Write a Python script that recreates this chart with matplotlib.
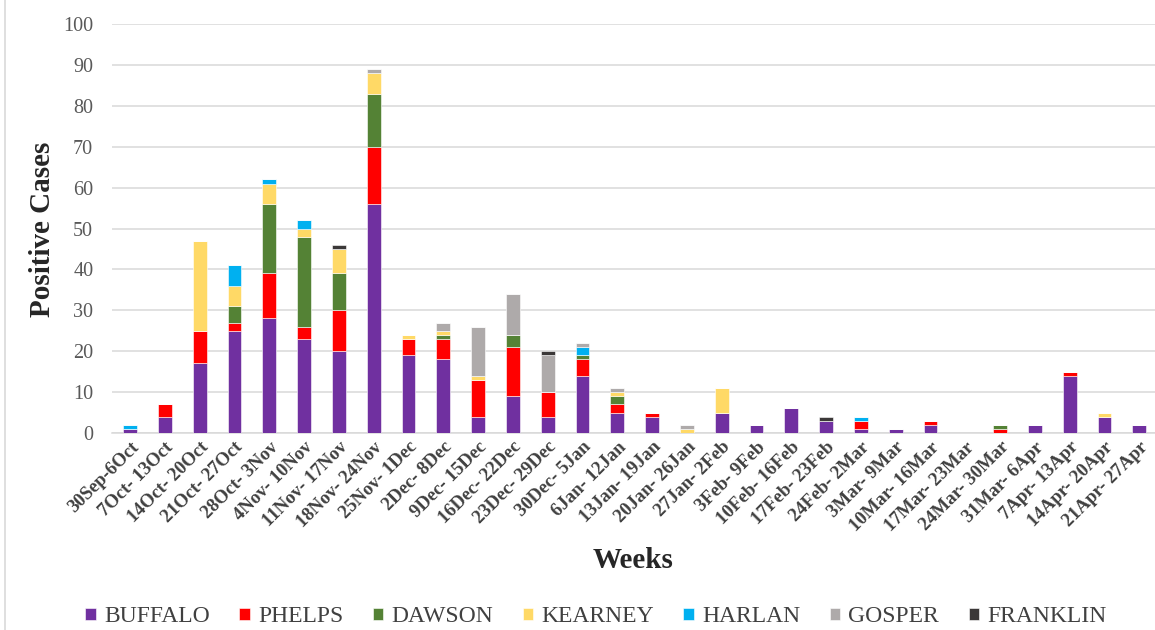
import matplotlib
matplotlib.use('Agg')
import matplotlib.pyplot as plt
from matplotlib.lines import Line2D
import numpy as np

plt.rcParams['font.family'] = ['Liberation Serif', 'DejaVu Serif']

# weekly positive cases by county
weeks = ['30Sep-6Oct', '7Oct- 13Oct', '14Oct- 20Oct', '21Oct- 27Oct', '28Oct- 3Nov',
         '4Nov- 10Nov', '11Nov- 17Nov', '18Nov- 24Nov', '25Nov- 1Dec', '2Dec- 8Dec',
         '9Dec- 15Dec', '16Dec- 22Dec', '23Dec- 29Dec', '30Dec- 5Jan', '6Jan- 12Jan',
         '13Jan- 19Jan', '20Jan- 26Jan', '27Jan- 2Feb', '3Feb- 9Feb', '10Feb- 16Feb',
         '17Feb- 23Feb', '24Feb- 2Mar', '3Mar- 9Mar', '10Mar- 16Mar', '17Mar- 23Mar',
         '24Mar- 30Mar', '31Mar- 6Apr', '7Apr- 13Apr', '14Apr- 20Apr', '21Apr- 27Apr']

buffalo = [1, 4, 17, 25, 28, 23, 20, 56, 19, 18, 4, 9, 4, 14, 5,
           4, 0, 5, 2, 6, 3, 1, 1, 2, 0, 0, 2, 14, 4, 2]
phelps = [0, 3, 8, 2, 11, 3, 10, 14, 4, 5, 9, 12, 6, 4, 2,
          1, 0, 0, 0, 0, 0, 2, 0, 1, 0, 1, 0, 1, 0, 0]
dawson = [0, 0, 0, 4, 17, 22, 9, 13, 0, 1, 0, 3, 0, 1, 2,
          0, 0, 0, 0, 0, 0, 0, 0, 0, 0, 1, 0, 0, 0, 0]
kearney = [0, 0, 22, 5, 5, 2, 6, 5, 1, 1, 1, 0, 0, 0, 1,
           0, 1, 6, 0, 0, 0, 0, 0, 0, 0, 0, 0, 0, 1, 0]
harlan = [1, 0, 0, 5, 1, 2, 0, 0, 0, 0, 0, 0, 0, 2, 0,
          0, 0, 0, 0, 0, 0, 1, 0, 0, 0, 0, 0, 0, 0, 0]
gosper = [0, 0, 0, 0, 0, 0, 0, 1, 0, 2, 12, 10, 9, 1, 1,
          0, 1, 0, 0, 0, 0, 0, 0, 0, 0, 0, 0, 0, 0, 0]
franklin = [0, 0, 0, 0, 0, 0, 1, 0, 0, 0, 0, 0, 1, 0, 0,
            0, 0, 0, 0, 0, 1, 0, 0, 0, 0, 0, 0, 0, 0, 0]

counties = ['BUFFALO', 'PHELPS', 'DAWSON', 'KEARNEY', 'HARLAN', 'GOSPER', 'FRANKLIN']
series = [buffalo, phelps, dawson, kearney, harlan, gosper, franklin]
colors = ['#7030A0', '#FF0000', '#548235', '#FFD966', '#00B0F0', '#AEAAAA', '#3B3838']

fig = plt.figure(figsize=(11.55, 6.3), dpi=100)
ax = fig.add_axes([112 / 1155, 1 - 433 / 630, 1043 / 1155, 409 / 630])

x = np.arange(len(weeks))
bottom = np.zeros(len(weeks))
for name, vals, col in zip(counties, series, colors):
    vals = np.array(vals, dtype=float)
    ax.bar(x, vals, width=0.4, bottom=bottom, color=col, label=name,
           edgecolor='white', linewidth=0.4, zorder=3)
    bottom += vals

ax.set_xlim(-0.52, 29.45)
ax.set_ylim(0, 100)
ax.set_yticks(np.arange(0, 101, 10))
ax.yaxis.grid(True, color='#D9D9D9', linewidth=1.1, zorder=0)
ax.set_axisbelow(True)
for s in ['top', 'right', 'left']:
    ax.spines[s].set_visible(False)
ax.spines['bottom'].set_color('#D9D9D9')
ax.spines['bottom'].set_linewidth(1.1)
ax.tick_params(axis='both', length=0)
ax.tick_params(axis='y', labelsize=14.5, labelcolor='#595959', pad=13.5)

ax.set_xticks(x)
ax.set_xticklabels(weeks, rotation=45, ha='right', rotation_mode='anchor',
                   fontsize=13.5, fontweight='bold', color='#404040')
ax.tick_params(axis='x', pad=4)

fig.text(43 / 1155, 1 - 229 / 630, 'Positive Cases', rotation=90, ha='center', va='center',
         fontsize=21, fontweight='bold', color='#262626')
fig.text(633 / 1155, 1 - 561 / 630, 'Weeks', ha='center', va='center',
         fontsize=21, fontweight='bold', color='#262626')

fig.legend(loc='center', bbox_to_anchor=(596 / 1155, 1 - 617 / 630), ncol=7,
           frameon=False, fontsize=17, handlelength=0.45, handleheight=0.45,
           handletextpad=0.34, columnspacing=1.25, labelcolor='#404040')

# thin frame line on the left edge of the chart area
fig.add_artist(Line2D([5 / 1155, 5 / 1155], [0, 1], transform=fig.transFigure,
                      color='#D9D9D9', linewidth=1.2))

fig.savefig('out.png', dpi=100)
